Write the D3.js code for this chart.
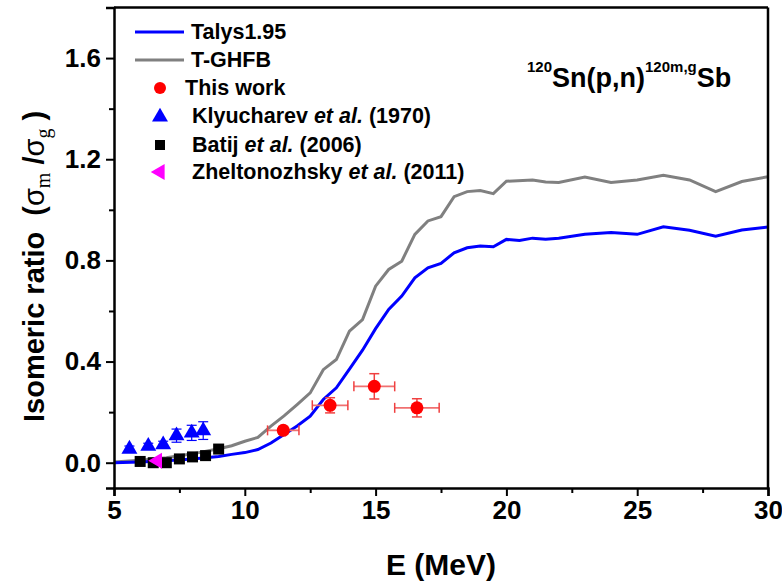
<!DOCTYPE html>
<html><head><meta charset="utf-8">
<script src="https://cdn.jsdelivr.net/npm/d3@7"></script>
<style>body{margin:0;background:#fff}svg{display:block}text{font-family:"Liberation Sans",Arial,sans-serif;font-weight:bold;white-space:pre}</style>
</head><body><svg id="c" width="782" height="584"></svg>
<script>
// Talys1.95 curve
const talysE = [5,6,7,8,9,9.5,10,10.5,11,11.5,12,12.5,13,13.5,14,14.5,15,15.5,16,16.5,17,17.5,18,18.5,19,19.5,20,20.5,21,21.5,22,23,24,25,26,27,28,29,30];
const talysR = [0.0,0.003,0.008,0.015,0.025,0.033,0.040,0.052,0.078,0.112,0.145,0.184,0.25,0.296,0.37,0.445,0.53,0.606,0.659,0.731,0.771,0.788,0.830,0.850,0.857,0.854,0.883,0.879,0.888,0.884,0.888,0.903,0.910,0.903,0.933,0.919,0.896,0.920,0.932];
// T-GHFB curve
const ghfbE = [5,6,7,8,9,9.5,10,10.5,11,11.5,12,12.5,13,13.5,14,14.5,15,15.5,16,16.5,17,17.5,18,18.5,19,19.5,20,21,21.5,22,23,24,25,26,27,28,29,30];
const ghfbR = [0.003,0.01,0.02,0.035,0.055,0.067,0.085,0.10,0.145,0.185,0.23,0.276,0.368,0.408,0.52,0.566,0.698,0.764,0.797,0.903,0.956,0.973,1.052,1.072,1.076,1.064,1.113,1.118,1.110,1.108,1.130,1.108,1.118,1.137,1.118,1.072,1.112,1.131];
// This work
const thisE = [11.47,13.26,14.95,16.58];
const thisR = [0.128,0.227,0.302,0.217];
const thisEerr = [0.6,0.68,0.78,0.85];
const thisRerr = [0.015,0.03,0.05,0.036];
// Klyucharev et al. (1970)
const klyE = [5.59,6.31,6.88,7.39,7.97,8.41];
const klyR = [0.054,0.065,0.071,0.107,0.118,0.127];
const klyErr = [0.012,0.012,0.014,0.026,0.03,0.035];
// Batij et al. (2006)
const batE = [6.0,6.5,7.0,7.5,8.0,8.5,9.0];
const batR = [0.005,0.0,0.0,0.015,0.023,0.028,0.054];
// Zheltonozhsky et al. (2011)
const zhE = [6.66];
const zhR = [0.008];
// axes
const xTicks = [5,10,15,20,25,30];
const xMinor = [7.5,12.5,17.5,22.5,27.5];
const yTicks = [0.0,0.4,0.8,1.2,1.6];
const yMinor = [0.2,0.6,1.0,1.4];

const svg = d3.select("#c");
const L=114,R=768,T=7.5,B=488;
const x = d3.scaleLinear().domain([5,30]).range([L,R]);
const y = d3.scaleLinear().domain([-0.1,1.8]).range([B,T]);

const line = d3.line().x(d=>x(d[0])).y(d=>y(d[1]));
const plot = svg.append("g");
plot.append("path").datum(d3.zip(ghfbE,ghfbR)).attr("d",line).attr("fill","none").attr("stroke","#808080").attr("stroke-width",3);
plot.append("path").datum(d3.zip(talysE,talysR)).attr("d",line).attr("fill","none").attr("stroke","#0000ff").attr("stroke-width",3);

// Klyucharev triangles with error bars
klyE.forEach((e,i)=>{
  const cx=x(e), cy=y(klyR[i]);
  const g=plot.append("g");
  g.append("line").attr("x1",cx).attr("x2",cx).attr("y1",y(klyR[i]+klyErr[i])).attr("y2",y(klyR[i]-klyErr[i])).attr("stroke","#0000ff").attr("stroke-width",1.2);
  [klyR[i]+klyErr[i],klyR[i]-klyErr[i]].forEach(v=>g.append("line").attr("x1",cx-5).attr("x2",cx+5).attr("y1",y(v)).attr("y2",y(v)).attr("stroke","#0000ff").attr("stroke-width",1.2));
  g.append("path").attr("d",d3.symbol(d3.symbolTriangle,110)()).attr("transform",`translate(${cx},${cy})`).attr("fill","#0000ff");
});
// Batij squares
batE.forEach((e,i)=>{
  plot.append("rect").attr("x",x(e)-5.5).attr("y",y(batR[i])-5.5).attr("width",11).attr("height",11).attr("fill","#000");
});
// Zheltonozhsky left triangle
zhE.forEach((e,i)=>{
  plot.append("path").attr("d",d3.symbol(d3.symbolTriangle,110)()).attr("transform",`translate(${x(e)},${y(zhR[i])}) rotate(-90)`).attr("fill","#ff00ff");
});
// This work
thisE.forEach((e,i)=>{
  const cx=x(e), cy=y(thisR[i]);
  const g=plot.append("g");
  const x1=x(e-thisEerr[i]), x2=x(e+thisEerr[i]);
  g.append("line").attr("x1",x1).attr("x2",x2).attr("y1",cy).attr("y2",cy).attr("stroke","#f07070").attr("stroke-width",1.8);
  [x1,x2].forEach(v=>g.append("line").attr("x1",v).attr("x2",v).attr("y1",cy-5).attr("y2",cy+5).attr("stroke","#f04040").attr("stroke-width",1.5));
  const y1=y(thisR[i]+thisRerr[i]), y2=y(thisR[i]-thisRerr[i]);
  g.append("line").attr("x1",cx).attr("x2",cx).attr("y1",y1).attr("y2",y2).attr("stroke","#f04040").attr("stroke-width",1.5);
  [y1,y2].forEach(v=>g.append("line").attr("x1",cx-5).attr("x2",cx+5).attr("y1",v).attr("y2",v).attr("stroke","#f04040").attr("stroke-width",1.5));
  g.append("circle").attr("cx",cx).attr("cy",cy).attr("r",6.5).attr("fill","#ff0000");
});

// axes
const xa = svg.append("g").attr("transform",`translate(0,${B})`)
  .call(d3.axisBottom(x).tickValues(xTicks).tickSize(8).tickPadding(5).tickFormat(d3.format("d")));
svg.append("g").attr("transform",`translate(0,${B})`)
  .call(d3.axisBottom(x).tickValues(xMinor).tickSize(5).tickFormat("")).call(g=>g.select(".domain").remove());
const ya = svg.append("g").attr("transform",`translate(${L},0)`)
  .call(d3.axisLeft(y).tickValues(yTicks).tickSize(8).tickPadding(5).tickFormat(d3.format(".1f")));
svg.append("g").attr("transform",`translate(${L},0)`)
  .call(d3.axisLeft(y).tickValues(yMinor).tickSize(5).tickFormat("")).call(g=>g.select(".domain").remove());
svg.selectAll(".domain").attr("stroke-width",2.5).attr("stroke","#000");
svg.selectAll(".tick line").attr("stroke-width",2).attr("stroke","#000");
xa.selectAll("text").attr("font-size",26).attr("fill","#000");
ya.selectAll("text").attr("font-size",26).attr("fill","#000");
// frame top/right
svg.append("line").attr("x1",L).attr("x2",R).attr("y1",T).attr("y2",T).attr("stroke","#000").attr("stroke-width",2.5);
svg.append("line").attr("x1",R).attr("x2",R).attr("y1",T).attr("y2",B).attr("stroke","#000").attr("stroke-width",2.5);

// axis titles
svg.append("text").attr("x",(L+R)/2).attr("y",575).attr("text-anchor","middle").attr("font-size",30).text("E (MeV)");
const yt = svg.append("text").attr("transform","translate(44,422) rotate(-90)").attr("font-size",29);
yt.append("tspan").text("Isomeric ratio  (");
yt.append("tspan").attr("font-weight","normal").text("σ");
yt.append("tspan").attr("font-size",20).attr("dy",6).attr("font-family","Liberation Serif").attr("font-weight","normal").text("m");
yt.append("tspan").attr("dy",-6).text(" /");
yt.append("tspan").attr("font-weight","normal").text("σ");
yt.append("tspan").attr("font-size",20).attr("dy",6).attr("font-family","Liberation Serif").attr("font-weight","normal").text("g");
yt.append("tspan").attr("dy",-6).text(" )");

// title
const tt = svg.append("text").attr("x",527).attr("y",87).attr("font-size",27);
tt.append("tspan").attr("font-size",15).attr("dy",-15).text("120");
tt.append("tspan").attr("dy",15).text("Sn(p,n)");
tt.append("tspan").attr("font-size",15).attr("dy",-15).text("120m,g");
tt.append("tspan").attr("dy",15).text("Sb");

// legend
const lg = svg.append("g");
const lineItems = [["Talys1.95","#0000ff",32],["T-GHFB","#808080",60]];
lineItems.forEach(([t,c,yy])=>{
  lg.append("line").attr("x1",135).attr("x2",184).attr("y1",yy).attr("y2",yy).attr("stroke",c).attr("stroke-width",3);
  lg.append("text").attr("x",191).attr("y",yy+7).attr("font-size",21.5).text(t);
});
lg.append("circle").attr("cx",160).attr("cy",88).attr("r",6).attr("fill","#ff0000");
lg.append("text").attr("x",185).attr("y",95).attr("font-size",21.5).text("This work");
lg.append("path").attr("d",d3.symbol(d3.symbolTriangle,110)()).attr("transform","translate(160,117)").attr("fill","#0000ff");
lg.append("rect").attr("x",155).attr("y",140).attr("width",10).attr("height",10).attr("fill","#000");
lg.append("path").attr("d",d3.symbol(d3.symbolTriangle,110)()).attr("transform","translate(160,172) rotate(-90)").attr("fill","#ff00ff");
const refs = [["Klyucharev ","(1970)",123],["Batij ","(2006)",152],["Zheltonozhsky ","(2011)",179]];
refs.forEach(([a,b,yy])=>{
  const t = lg.append("text").attr("x",192).attr("y",yy).attr("font-size",21.5);
  t.append("tspan").text(a);
  t.append("tspan").attr("font-style","italic").text("et al.");
  t.append("tspan").text(" "+b);
});
</script></body></html>
